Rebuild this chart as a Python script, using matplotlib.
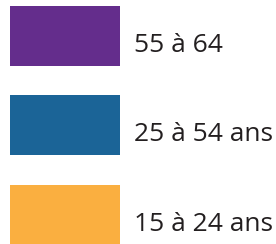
import matplotlib

matplotlib.use("Agg")
import matplotlib.pyplot as plt
import numpy as np

labels = ["55 à 64", "25 à 54 ans", "15 à 24 ans"]
colors = ["#642D8C", "#1B6497", "#FAAF40"]

W, H = 276, 244
fig = plt.figure(figsize=(W / 100, H / 100), dpi=100)
ax = fig.add_axes([0, 0, 1, 1])
ax.set_xlim(0, W)
ax.set_ylim(H, 0)
ax.axis("off")

rows = np.arange(len(labels))
centers = 36 + rows * 89.3
ax.barh(centers, 110, height=60, left=10, color=colors)
for y, lab in zip(centers, labels):
    ax.text(134, y + 16, lab, fontsize=19, family="Open Sans",
            color="#231F20", va="baseline", ha="left")

fig.savefig("out.png", dpi=100)
